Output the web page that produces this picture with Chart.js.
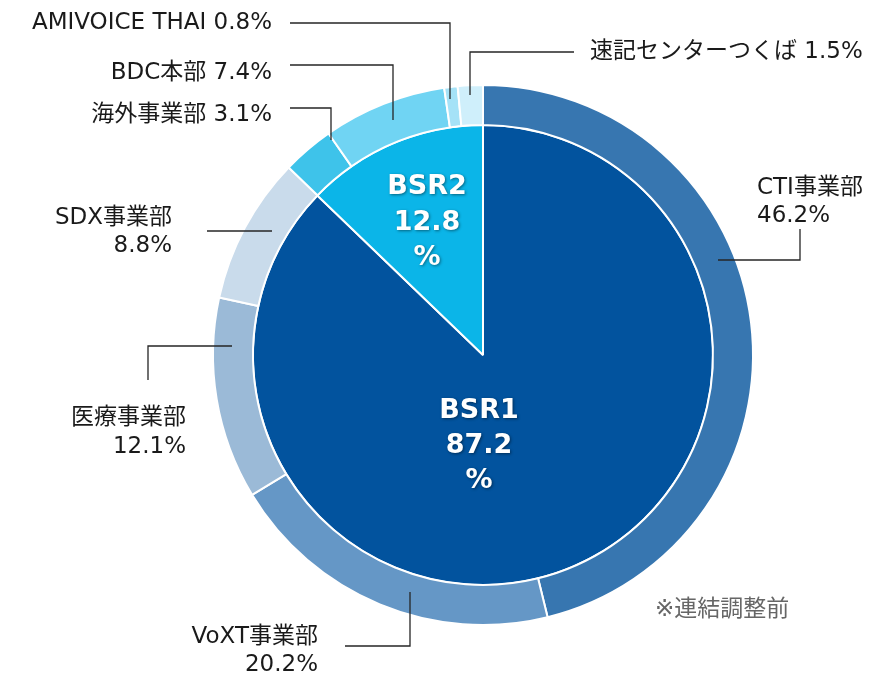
<!DOCTYPE html>
<html>
<head>
<meta charset="utf-8">
<script src="https://cdn.jsdelivr.net/npm/chart.js@4/dist/chart.umd.min.js"></script>
<style>
  html, body { margin: 0; padding: 0; background: #fff; }
  #wrap { width: 872px; height: 676px; position: relative; }
</style>
</head>
<body>
<div id="wrap"><canvas id="bsrChart"></canvas></div>
<script>
// outer ring: divisions
const divisionNames = ['CTI事業部', 'VoXT事業部', '医療事業部', 'SDX事業部', '海外事業部', 'BDC本部', 'AMIVOICE THAI', '速記センターつくば'];
const divisionShares = [46.2, 20.2, 12.1, 8.8, 3.1, 7.4, 0.8, 1.5];
const divisionColors = ['#3776b0', '#6597c6', '#9bbad7', '#c9dbeb', '#3ec3ea', '#70d4f3', '#a5e2f7', '#cfeffb'];

// inner pie: segments
const segmentNames = ['BSR1', 'BSR2'];
const segmentShares = [87.2, 12.8];
const segmentColors = ['#02539e', '#0bb5e8'];

const note = '※連結調整前';

const FONT = '"DejaVu Sans", "Noto Sans CJK JP", sans-serif';

// where each division label sits and how its leader line runs (last point sits on the ring)
const labelLayout = [
    {x: 757, y: [188, 216], align: 'left', split: true, path: [[718, 260], [800, 260], [800, 229]]},
    {x: 318, y: [637, 665], align: 'right', split: true, path: [[345, 646], [410, 646], [410, 592]]},
    {x: 186, y: [418, 447], align: 'right', split: true, path: [[148, 380], [148, 346], [232, 346]]},
    {x: 172, y: [218, 246], align: 'right', split: true, path: [[207, 231], [272, 231]]},
    {x: 272, y: [115], align: 'right', split: false, path: [[290, 108], [331, 108], [331, 140]]},
    {x: 272, y: [73], align: 'right', split: false, path: [[290, 65], [393, 65], [393, 120]]},
    {x: 272, y: [23], align: 'right', split: false, path: [[290, 23], [450, 23], [450, 99]]},
    {x: 590, y: [52], align: 'left', split: false, path: [[574, 52], [470, 52], [470, 95]]}
];

const innerLayout = [
    {x: 479, y: [411, 446, 481]},
    {x: 427, y: [187, 223, 258]}
];

const labelPlugin = {
    id: 'labelPlugin',
    afterDraw(chart) {
        const ctx = chart.ctx;
        ctx.save();

        // leader lines
        ctx.strokeStyle = '#262626';
        ctx.lineWidth = 1.3;
        labelLayout.forEach(l => {
            ctx.beginPath();
            l.path.forEach((p, k) => k ? ctx.lineTo(p[0], p[1]) : ctx.moveTo(p[0], p[1]));
            ctx.stroke();
        });

        // outer labels
        ctx.font = '23px ' + FONT;
        ctx.fillStyle = '#1a1a1a';
        ctx.textBaseline = 'middle';
        labelLayout.forEach((l, i) => {
            const pct = divisionShares[i].toFixed(1) + '%';
            const lines = l.split ? [divisionNames[i], pct] : [divisionNames[i] + ' ' + pct];
            ctx.textAlign = l.align;
            lines.forEach((t, k) => ctx.fillText(t, l.x, l.y[k]));
        });

        // note
        ctx.fillStyle = '#666';
        ctx.textAlign = 'left';
        ctx.fillText(note, 655, 610);

        // inner labels
        ctx.font = 'bold 27px ' + FONT;
        ctx.fillStyle = '#fff';
        ctx.textAlign = 'center';
        ctx.shadowColor = 'rgba(0,0,0,0.45)';
        ctx.shadowBlur = 3;
        ctx.shadowOffsetX = 1;
        ctx.shadowOffsetY = 1;
        innerLayout.forEach((l, i) => {
            const lines = [segmentNames[i], segmentShares[i].toFixed(1), '%'];
            lines.forEach((t, k) => ctx.fillText(t, l.x, l.y[k]));
        });
        ctx.restore();
    }
};

let chart;

function initializeChart() {
    const ctx = document.getElementById('bsrChart').getContext('2d');
    chart = new Chart(ctx, {
        type: 'doughnut',
        data: {
            labels: divisionNames,
            datasets: [
                {
                    label: '事業部',
                    data: divisionShares,
                    backgroundColor: divisionColors,
                    borderColor: '#fff',
                    borderWidth: 2,
                    weight: 40
                },
                {
                    label: 'セグメント',
                    data: segmentShares,
                    backgroundColor: segmentColors,
                    borderColor: '#fff',
                    borderWidth: 2,
                    weight: 230
                }
            ]
        },
        options: {
            responsive: true,
            maintainAspectRatio: false,
            animation: false,
            cutout: 0,
            layout: {
                padding: {top: 84, left: 212, right: 118, bottom: 50}
            },
            plugins: {
                legend: {display: false},
                tooltip: {enabled: false}
            }
        },
        plugins: [labelPlugin]
    });
}

window.onload = initializeChart;
</script>
</body>
</html>
